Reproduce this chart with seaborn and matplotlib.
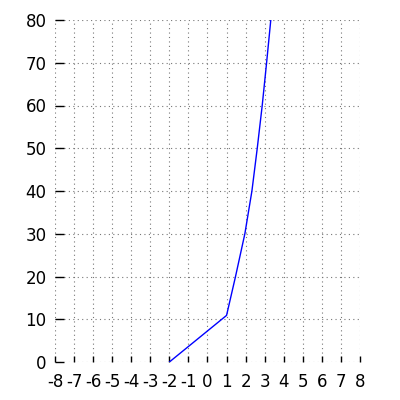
import pandas as pd
import matplotlib
matplotlib.use("Agg")
import matplotlib.pyplot as plt
import seaborn as sns

# values
x_vals = [-2, 1, 1.47, 1.96, 2.33, 2.61, 2.87, 3.1, 3.32]
y_vals = [0, 10.9, 20, 30, 40, 50, 60, 70, 80]
x_ticks = list(range(-8, 9))
y_ticks = list(range(0, 81, 10))

df = pd.DataFrame({"x": x_vals, "y": y_vals})

sns.set_style("white")
plt.rcParams['font.family'] = ['DejaVu Sans']
plt.rcParams['axes.unicode_minus'] = False

fig = plt.figure(figsize=(4, 4), dpi=100)
ax = fig.add_axes([0.1375, 0.095, 0.7625, 0.855])
sns.lineplot(data=df, x="x", y="y", sort=False, estimator=None, color="blue", linewidth=1, ax=ax)

ax.set_xlim(-8, 8)
ax.set_ylim(0, 80)
ax.set_xticks(x_ticks)
ax.set_yticks(y_ticks)
ax.set_xlabel("")
ax.set_ylabel("")
for s in ax.spines.values():
    s.set_visible(False)
ax.grid(True, linestyle=(0, (1, 3)), color="#777777", linewidth=0.8)
ax.tick_params(axis="x", direction="in", length=4.5, width=1, color="black",
               labelcolor="black", labelsize=12, pad=8)
ax.tick_params(axis="y", direction="in", length=6.5, width=1, color="black",
               labelcolor="black", labelsize=12, pad=6)
ax.tick_params(axis="y", left=True)
ax.tick_params(axis="x", bottom=True)

plt.savefig("out.png", dpi=100)
